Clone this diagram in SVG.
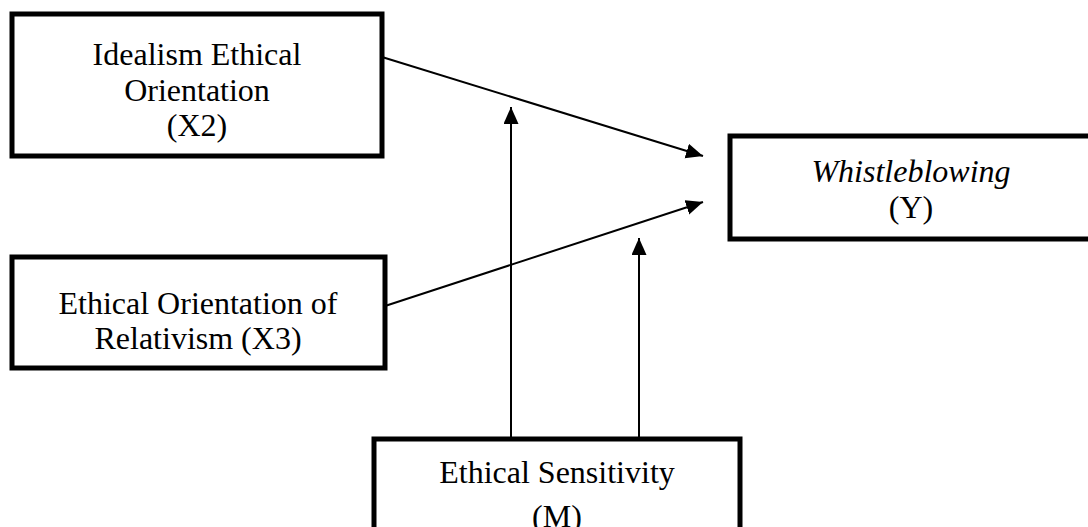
<svg xmlns="http://www.w3.org/2000/svg" width="1088" height="527" viewBox="0 0 1088 527">
<style>
.box{fill:#fff;stroke:#000;stroke-width:5}
.t{font-family:"Liberation Serif","Times New Roman",serif;font-size:32px;fill:#000;text-anchor:middle}
.i{font-style:italic}
.c{stroke:#000;stroke-width:2;fill:none}
</style>
<defs>
<marker id="ah" markerUnits="userSpaceOnUse" markerWidth="18" markerHeight="16" refX="17" refY="7.5" orient="auto">
<path d="M0,0 L17,7.5 L0,15 z" fill="#000"/>
</marker>
</defs>
<rect width="1088" height="527" fill="#fff"/>
<g id="x2">
<rect class="box" x="12" y="14" width="370" height="142"/>
<text class="t" x="197" y="65">Idealism Ethical</text>
<text class="t" x="197" y="101">Orientation</text>
<text class="t" x="197" y="136">(X2)</text>
</g>
<g id="x3">
<rect class="box" x="12" y="257" width="373" height="111"/>
<text class="t" x="198" y="314">Ethical Orientation of</text>
<text class="t" x="198" y="349">Relativism (X3)</text>
</g>
<g id="y">
<rect class="box" x="730" y="136" width="370" height="103"/>
<text class="t i" x="911" y="182">Whistleblowing</text>
<text class="t" x="911" y="218">(Y)</text>
</g>
<g id="m">
<rect class="box" x="374" y="439" width="366" height="100"/>
<text class="t" x="557" y="483">Ethical Sensitivity</text>
<text class="t" x="557" y="527">(M)</text>
</g>
<g id="connectors">
<line class="c" x1="382" y1="57" x2="703" y2="156" marker-end="url(#ah)"/>
<line class="c" x1="385" y1="306" x2="703" y2="202" marker-end="url(#ah)"/>
<line class="c" x1="511" y1="437" x2="511" y2="107" marker-end="url(#ah)"/>
<line class="c" x1="639" y1="437" x2="639" y2="238" marker-end="url(#ah)"/>
</g>
</svg>
